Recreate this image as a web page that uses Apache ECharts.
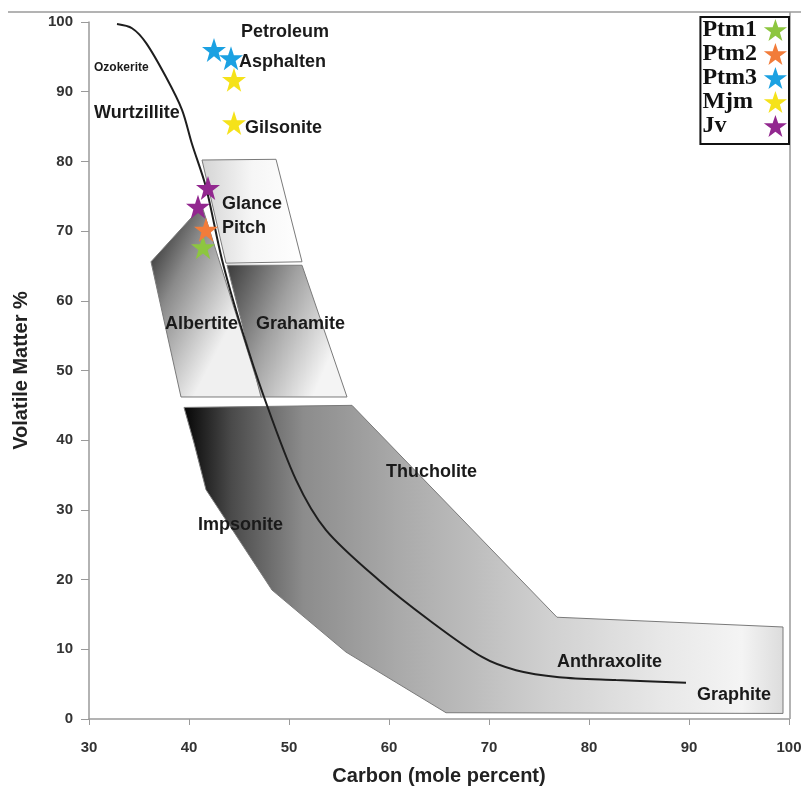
<!DOCTYPE html>
<html>
<head>
<meta charset="utf-8">
<script src="https://cdn.jsdelivr.net/npm/echarts@6/dist/echarts.min.js"></script>
<style>
  html, body { margin: 0; padding: 0; background: #fff; }
  #main { width: 801px; height: 789px; }
</style>
</head>
<body>
<div id="main"></div>
<script>
'use strict';

// trend line (carbon %, volatile matter %)
var curveData = [[32.8, 99.7], [34.3, 99.1], [35.7, 97], [37.7, 92.1], [39.3, 87.4], [40.3, 82.5],
  [41.7, 76.3], [43.3, 65.9], [45.3, 55.8], [47.5, 46.2], [50.7, 34.3], [53.7, 27.1],
  [59, 19.9], [64, 14.2], [69.3, 8.9], [72.7, 7.0], [77, 6.0], [82.7, 5.6], [89.7, 5.2]];

// field polygons
var glancePitchArea = [[41.3, 80.2], [48.7, 80.3], [51.3, 65.6], [43.7, 65.4]];
var grahamiteArea = [[43.8, 65.1], [51.3, 65.1], [55.8, 46.2], [47.2, 46.2]];
var albertiteArea = [[36.2, 65.6], [41.3, 73.6], [47.3, 46.2], [39.2, 46.2]];
var impsoniteArea = [[39.5, 44.7], [56.3, 45.0], [76.8, 14.6], [99.4, 13.2], [99.4, 0.8],
  [65.7, 0.9], [55.7, 9.6], [48.3, 18.5], [41.7, 32.9], [40.5, 39.6]];

// samples
var ptm1 = [[41.4, 67.7]];
var ptm2 = [[41.7, 70.2]];
var ptm3 = [[42.5, 96.0], [44.2, 94.8]];
var mjm = [[44.5, 91.7], [44.5, 85.5]];
var jv = [[41.9, 76.2], [40.9, 73.5]];

// text labels [carbon, vm, text]
var labels = [
  [45.2, 98.6, 'Petroleum'],
  [30.5, 93.4, 'Ozokerite'],
  [45.0, 94.3, 'Asphalten'],
  [30.5, 87.0, 'Wurtzillite'],
  [45.6, 84.8, 'Gilsonite'],
  [43.3, 73.9, 'Glance'],
  [43.3, 70.4, 'Pitch'],
  [37.6, 56.6, 'Albertite'],
  [46.7, 56.6, 'Grahamite'],
  [59.7, 35.4, 'Thucholite'],
  [40.9, 27.8, 'Impsonite'],
  [76.8, 8.2, 'Anthraxolite'],
  [90.8, 3.4, 'Graphite']
];

var starPath = 'path://M50,0 L61.8,35.1 L98.8,35.1 L68.8,57.3 L79.4,92.7 L50,71 L20.6,92.7 L31.2,57.3 L1.2,35.1 L38.2,35.1 Z';
var LG = echarts.graphic.LinearGradient;

function areaSeries(name, pts, fill, z) {
  return {
    name: name,
    type: 'custom',
    z: z,
    silent: true,
    data: [0],
    renderItem: function (params, api) {
      var points = pts.map(function (p) { return api.coord(p); });
      return {
        type: 'polygon',
        shape: { points: points },
        style: { fill: fill, stroke: '#7a7a7a', lineWidth: 1 }
      };
    }
  };
}

function starSeries(name, data, color) {
  return {
    name: name,
    type: 'scatter',
    z: 10,
    symbol: starPath,
    symbolSize: 24,
    itemStyle: { color: color, opacity: 1 },
    data: data
  };
}

var legendFont = {
  fontFamily: 'Liberation Serif',
  fontWeight: 'bold',
  fontSize: 24,
  lineHeight: 24,
  color: '#111'
};

var myChart = echarts.init(document.getElementById('main'));
var option = {
  backgroundColor: '#fff',
  animation: false,
  grid: { left: 89, right: 12, top: 22, bottom: 70, outerBoundsMode: 'none' },
  legend: {
    orient: 'vertical',
    right: 12,
    top: 17,
    align: 'right',
    itemWidth: 24,
    itemHeight: 22,
    itemGap: 0,
    padding: [1, 2, 6, 2],
    borderColor: '#111',
    borderWidth: 2,
    backgroundColor: '#fff',
    data: ['Ptm1', 'Ptm2', 'Ptm3', 'Mjm', 'Jv'],
    formatter: '{a|{name}}',
    textStyle: Object.assign({
      rich: { a: Object.assign({ width: 56, align: 'left' }, legendFont) }
    }, legendFont)
  },
  xAxis: {
    type: 'value',
    min: 30,
    max: 100,
    interval: 10,
    name: 'Carbon (mole percent)',
    nameLocation: 'middle',
    nameGap: 47,
    nameTextStyle: { fontFamily: 'Liberation Sans', fontWeight: 'bold', fontSize: 20, color: '#222' },
    axisLine: { lineStyle: { color: '#9a9a9a', width: 1.5 } },
    axisTick: { length: 6, lineStyle: { color: '#9a9a9a' } },
    axisLabel: { margin: 21, fontFamily: 'Liberation Sans', fontWeight: 'bold', fontSize: 15, color: '#333' },
    splitLine: { show: false }
  },
  yAxis: {
    type: 'value',
    min: 0,
    max: 100,
    interval: 10,
    name: 'Volatile Matter %',
    nameLocation: 'middle',
    nameGap: 58,
    nameTextStyle: { fontFamily: 'Liberation Sans', fontWeight: 'bold', fontSize: 20, color: '#222' },
    axisLine: { show: true, lineStyle: { color: '#9a9a9a', width: 1.5 } },
    axisTick: { show: true, length: 8, lineStyle: { color: '#9a9a9a' } },
    axisLabel: { margin: 16, fontFamily: 'Liberation Sans', fontWeight: 'bold', fontSize: 15, color: '#333' },
    splitLine: { show: false }
  },
  graphic: [
    { type: 'line', shape: { x1: 8, y1: 12, x2: 801, y2: 12 }, style: { stroke: '#9a9a9a', lineWidth: 1.5 }, z: 1 },
    { type: 'line', shape: { x1: 790, y1: 12, x2: 790, y2: 719 }, style: { stroke: '#9a9a9a', lineWidth: 1.5 }, z: 1 }
  ],
  series: [
    areaSeries('impsonite', impsoniteArea, new LG(0, 0, 1, 0, [
      { offset: 0, color: '#050505' },
      { offset: 0.08, color: '#4a4a4a' },
      { offset: 0.2, color: '#8c8c8c' },
      { offset: 0.36, color: '#aaaaaa' },
      { offset: 0.6, color: '#cfcfcf' },
      { offset: 0.8, color: '#e8e8e8' },
      { offset: 0.93, color: '#f4f4f4' },
      { offset: 1, color: '#dcdcdc' }
    ]), 2),
    areaSeries('albertite', albertiteArea, new LG(0, 0, 1, 0.3, [
      { offset: 0, color: '#111' },
      { offset: 0.45, color: '#8a8a8a' },
      { offset: 1, color: '#f0f0f0' }
    ]), 2),
    areaSeries('grahamite', grahamiteArea, new LG(0, 0, 1, 0.4, [
      { offset: 0, color: '#3a3a3a' },
      { offset: 0.5, color: '#a0a0a0' },
      { offset: 1, color: '#f4f4f4' }
    ]), 2),
    areaSeries('glance', glancePitchArea, new LG(0, 0, 1, 0, [
      { offset: 0, color: '#d4d4d4' },
      { offset: 0.5, color: '#f6f6f6' },
      { offset: 1, color: '#ffffff' }
    ]), 2),
    {
      name: 'trend',
      type: 'line',
      z: 5,
      smooth: 0.3,
      showSymbol: false,
      silent: true,
      lineStyle: { color: '#1e1e1e', width: 2 },
      data: curveData
    },
    {
      name: 'labels',
      type: 'custom',
      z: 8,
      silent: true,
      data: labels,
      renderItem: function (params, api) {
        var p = api.coord([api.value(0), api.value(1)]);
        var txt = labels[params.dataIndex][2];
        return {
          type: 'text',
          x: p[0],
          y: p[1],
          style: {
            text: txt,
            fill: '#1a1a1a',
            fontFamily: 'Liberation Sans',
            fontWeight: 'bold',
            fontSize: txt === 'Ozokerite' ? 12 : 18,
            align: 'left',
            verticalAlign: 'middle'
          }
        };
      }
    },
    starSeries('Ptm1', ptm1, '#8dc63f'),
    starSeries('Ptm2', ptm2, '#f27c3a'),
    starSeries('Ptm3', ptm3, '#1ba1e2'),
    starSeries('Mjm', mjm, '#f5e21a'),
    starSeries('Jv', jv, '#92278f')
  ]
};
myChart.setOption(option);
</script>
</body>
</html>
